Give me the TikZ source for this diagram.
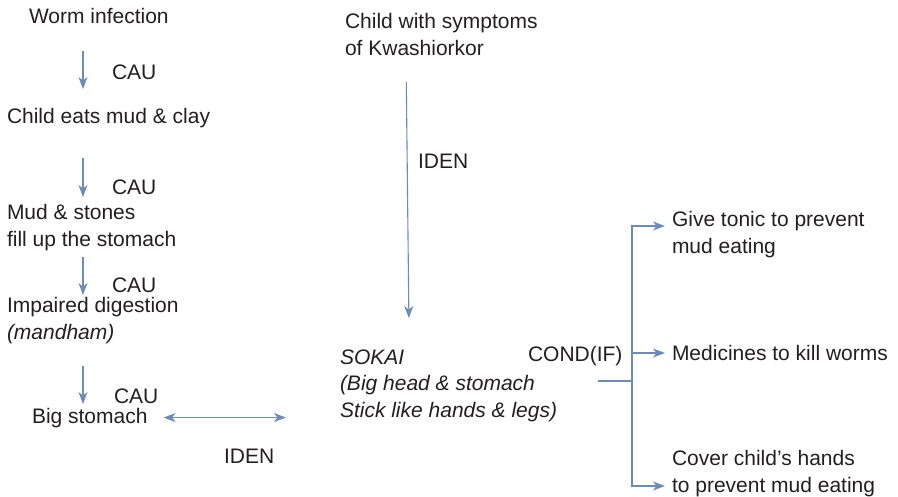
\documentclass[tikz,border=0pt]{standalone}
\usepackage{fontspec}
\setmainfont{Liberation Sans}
\usetikzlibrary{arrows.meta}
\definecolor{ink}{HTML}{231F20}
\definecolor{link}{HTML}{6E8BB5}
\begin{document}
\begin{tikzpicture}[x=1pt,y=-1pt,
  txt/.style={inner sep=0pt, outer sep=0pt, anchor=base west, align=left,
    text=ink, font=\fontsize{21}{26.5}\selectfont},
  link/.style={draw=link, line width=1.1pt},
  arr/.style={link, -{Stealth[length=12pt,width=9pt,inset=3.5pt]}},
  dbl/.style={link, {Stealth[length=12pt,width=9pt,inset=3.5pt]}-{Stealth[length=12pt,width=9pt,inset=3.5pt]}}]
\useasboundingbox (0,0) rectangle (898,496);

% left column: causal chain (node base = baseline of the last line)
\node[txt] (worm)   at (29,23)  {Worm infection};
\node[txt] (eats)   at (7,123)  {Child eats mud \& clay};
\node[txt] (mud)    at (7,246)  {Mud \& stones\\fill up the stomach};
\node[txt] (impair) at (7,339)  {Impaired digestion\\\textit{(mandham)}};
\node[txt] (bigst)  at (32,423) {Big stomach};

\node[txt] (cau1) at (112,79)  {CAU};
\node[txt] (cau2) at (112,194) {CAU};
\node[txt] (cau3) at (112,292) {CAU};
\node[txt] (cau4) at (114,403) {CAU};

\coordinate (colx) at (83,0);
\draw[arr, shorten <=28pt, shorten >=34pt] (worm.base -| colx) -- (eats.base -| colx);
\draw[arr, shorten <=35pt, shorten >=49pt] (eats.base -| colx) -- (mud.base -| colx);
\draw[arr, shorten <=11pt, shorten >=44pt] (mud.base -| colx) -- (impair.base -| colx);
\draw[arr, shorten <=27pt, shorten >=19pt] (impair.base -| colx) -- (bigst.base -| colx);

% middle column
\node[txt] (kwash) at (345,55)  {Child with symptoms\\of Kwashiorkor};
\node[txt] (sokai) at (340,417) {\itshape SOKAI\\\itshape (Big head \& stomach\\\itshape Stick like hands \& legs)};
\node[txt] (iden1) at (418,168) {IDEN};
\node[txt] (iden2) at (224,463) {IDEN};

\coordinate (kx1) at (406,0);
\coordinate (kx2) at (410,0);
\draw[arr, shorten <=27pt, shorten >=99pt] (kwash.base -| kx1) -- (sokai.base -| kx2);
\draw[dbl, shorten <=16pt, shorten >=54pt] (bigst.east) -- (bigst.east -| sokai.west);

% right column: conditional remedies
\node[txt] (cond)  at (528,361) {COND(IF)};
\node[txt] (tonic) at (672,253) {Give tonic to prevent\\mud eating};
\node[txt] (meds)  at (672,360) {Medicines to kill worms};
\node[txt] (cover) at (672,492) {Cover child’s hands\\to prevent mud eating};

\coordinate (forkin) at (598,381);
\coordinate (fork)   at (632,381);
\draw[link] (forkin) -- (fork);
\draw[arr, shorten >=7pt] (fork) |- ([yshift=27pt]tonic.base west);
\draw[arr, shorten >=7pt] (fork) |- ([yshift=7pt]meds.base west);
\draw[arr, shorten >=7pt] (fork) |- ([yshift=6pt]cover.base west);
\end{tikzpicture}
\end{document}
